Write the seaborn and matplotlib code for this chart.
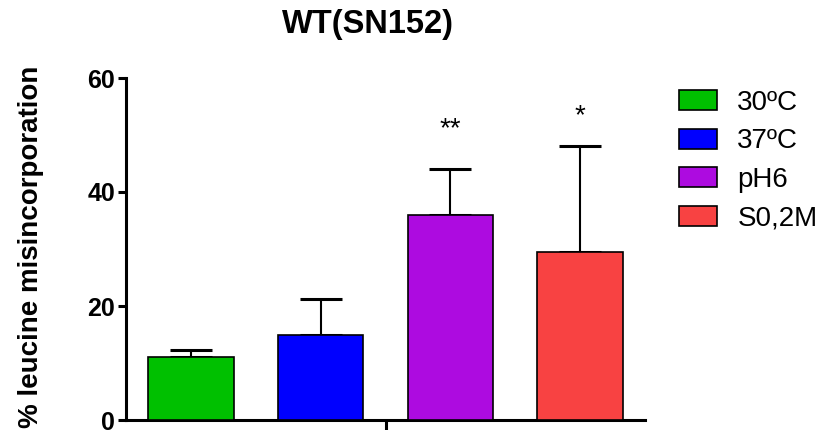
import matplotlib
matplotlib.use("Agg")
import matplotlib.pyplot as plt
import numpy as np
import pandas as pd
import seaborn as sns

# values
conditions = ["30ºC", "37ºC", "pH6", "S0,2M"]
means = [11.1, 14.9, 36.0, 29.5]
errors_up = [1.2, 6.3, 8.0, 18.6]
colors = ["#00C000", "#0000FF", "#AD0BE0", "#F84242"]
stars = ["", "", "**", "*"]
star_heights = [0, 0, 49.8, 52.0]
y_ticks = [0, 20, 40, 60]

sns.set_style("ticks")
plt.rcParams["font.family"] = ["Liberation Sans", "DejaVu Sans"]
plt.rcParams.update({
    "text.color": "black", "axes.labelcolor": "black",
    "xtick.color": "black", "ytick.color": "black",
})

df = pd.DataFrame({"condition": conditions, "value": means})

fig = plt.figure(figsize=(8.21, 4.30), dpi=100)
ax = fig.add_axes([126 / 821, 1 - 420 / 430, (645 - 126) / 821, (420 - 78) / 430])

sns.barplot(
    data=df, x="condition", y="value", hue="condition",
    palette=colors, order=conditions, hue_order=conditions,
    width=0.66, edgecolor="black", linewidth=1.2, legend=True,
    dodge=False, saturation=1, ax=ax, zorder=3,
)

xpos = np.arange(len(conditions))
ax.errorbar(
    xpos, means, yerr=[np.zeros(len(means)), errors_up], fmt="none",
    ecolor="black", elinewidth=1.5, capsize=15, capthick=2.2, zorder=2,
)

for x, s, h in zip(xpos, stars, star_heights):
    if s:
        ax.text(x, h, s, ha="center", va="baseline", fontsize=20, color="black")

ax.set_xlim(-0.5, len(conditions) - 0.5)
ax.set_ylim(0, 60)
ax.set_yticks(y_ticks)
ax.set_yticklabels([str(t) for t in y_ticks], fontsize=18, fontweight="bold")
ax.set_xticks([(len(conditions) - 1) / 2])
ax.set_xticklabels([""])
ax.set_xlabel("")
ax.set_ylabel("% leucine misincorporation", fontsize=20, fontweight="bold")
ax.yaxis.set_label_coords(-(126 - 44) / (645 - 126), 0.505)
ax.tick_params(axis="both", width=2.2, length=6, pad=2)
ax.tick_params(axis="x", length=8)
for side in ["left", "bottom"]:
    ax.spines[side].set_linewidth(2.2)
    ax.spines[side].set_color("black")
sns.despine(ax=ax)

fig.text(368 / 821, 1 - 25 / 430, "WT(SN152)", ha="center", va="center",
         fontsize=23.5, fontweight="bold")

leg = ax.legend(
    loc="upper left", bbox_to_anchor=(679 / 821, 1 - 90 / 430),
    bbox_transform=fig.transFigure, frameon=False, fontsize=20,
    handlelength=1.38, handleheight=0.74, handletextpad=0.72,
    labelspacing=0.45, borderpad=0, borderaxespad=0,
)
for h in leg.legend_handles:
    h.set_edgecolor("black")
    h.set_linewidth(1.2)

fig.savefig("out.png", dpi=100)
